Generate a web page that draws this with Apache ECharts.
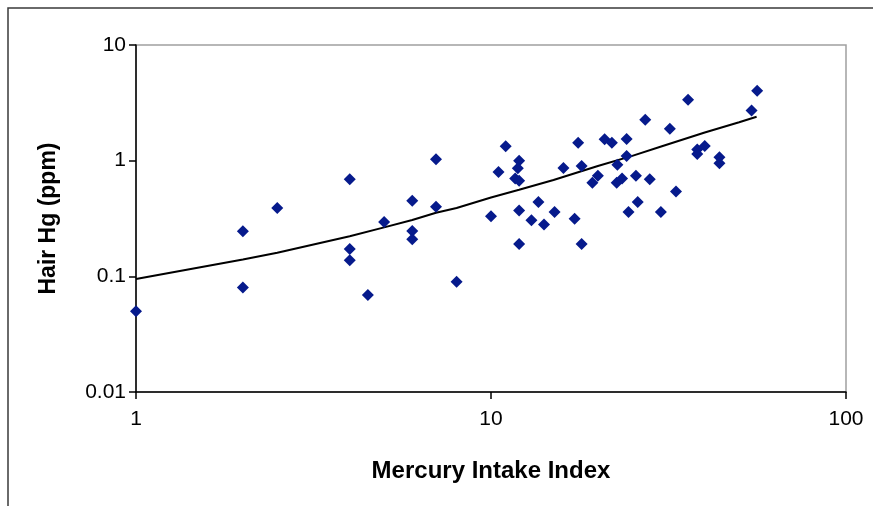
<!DOCTYPE html>
<html>
<head>
<meta charset="utf-8">
<script src="https://cdn.jsdelivr.net/npm/echarts@6/dist/echarts.min.js"></script>
<style>
  html, body { margin: 0; padding: 0; background: #fff; }
  #chart { width: 873px; height: 506px; }
</style>
</head>
<body>
<div id="chart"></div>
<script>
// scatter points: mercury intake index vs hair Hg (ppm)
const intakeIndex = [1, 2, 2, 2.5, 4, 4, 4, 4.5, 5, 6, 6, 6, 7, 7, 8, 10, 10.5, 11, 11.7, 12,
  11.9, 12, 12, 12, 13, 13.6, 14.1, 15.1, 16, 17.2, 17.6, 18, 18, 19.3, 20, 20.9, 21.9, 22.6,
  22.7, 23.4, 24.1, 24.1, 24.4, 25.6, 25.9, 27.2, 28, 30.1, 31.9, 33.2, 35.9, 38.1, 38.1, 40,
  44, 44, 54.2, 56.2];
const hairHg = [0.05, 0.245, 0.08, 0.39, 0.69, 0.172, 0.138, 0.069, 0.295, 0.45, 0.246, 0.209,
  1.03, 0.40, 0.09, 0.33, 0.80, 1.33, 0.70, 1.0, 0.86, 0.67, 0.37, 0.19, 0.305, 0.44, 0.28,
  0.36, 0.865, 0.315, 1.43, 0.90, 0.19, 0.645, 0.74, 1.53, 1.43, 0.645, 0.92, 0.70, 1.54, 1.10,
  0.36, 0.74, 0.44, 2.26, 0.69, 0.36, 1.89, 0.54, 3.37, 1.25, 1.14, 1.34, 1.07, 0.95, 2.72, 4.03];

// trend line
const trendX = [1, 2, 2.5, 4, 5, 6, 7, 8, 10, 12, 15, 20, 25, 30, 40, 50, 56];
const trendY = [0.095, 0.14, 0.16, 0.222, 0.265, 0.307, 0.355, 0.39, 0.48, 0.56, 0.68, 0.9,
  1.1, 1.32, 1.75, 2.15, 2.4];

const font = 'Liberation Sans, Arial, sans-serif';

const chart = echarts.init(document.getElementById('chart'));
chart.setOption({
  animation: false,
  backgroundColor: '#fff',
  grid: {
    left: 136, top: 45, right: 27, bottom: 114,
    show: true, borderColor: '#a0a0a0', borderWidth: 1.5, backgroundColor: '#fff'
  },
  graphic: [{
    type: 'rect',
    shape: { x: 8, y: 8, width: 1000, height: 1000 },
    style: { fill: 'none', stroke: '#3a3a3a', lineWidth: 1.5 },
    silent: true
  }],
  xAxis: {
    type: 'log', logBase: 10, min: 1, max: 100,
    name: 'Mercury Intake Index',
    nameLocation: 'middle', nameGap: 67,
    nameTextStyle: { fontFamily: font, fontSize: 24, fontWeight: 'bold', color: '#000' },
    axisLine: { lineStyle: { color: '#000', width: 1.5 } },
    axisTick: { show: true, length: 7, inside: false, lineStyle: { color: '#000', width: 1.5 } },
    minorTick: { show: false },
    axisLabel: { fontFamily: font, fontSize: 21, color: '#000', margin: 17 },
    splitLine: { show: false }
  },
  yAxis: {
    type: 'log', logBase: 10, min: 0.01, max: 10,
    name: 'Hair Hg (ppm)',
    nameLocation: 'middle', nameGap: 76, nameRotate: 90,
    nameTextStyle: { fontFamily: font, fontSize: 23, fontWeight: 'bold', color: '#000' },
    axisLine: { show: true, lineStyle: { color: '#000', width: 1.5 } },
    axisTick: { show: true, length: 7, inside: false, lineStyle: { color: '#000', width: 1.5 } },
    minorTick: { show: false },
    axisLabel: { fontFamily: font, fontSize: 21, color: '#000', margin: 10,
      formatter: v => String(+v.toPrecision(3)) },
    splitLine: { show: false }
  },
  series: [
    {
      type: 'line',
      data: trendX.map((x, i) => [x, trendY[i]]),
      showSymbol: false,
      lineStyle: { color: '#000', width: 2 },
      z: 3
    },
    {
      type: 'scatter',
      data: intakeIndex.map((x, i) => [x, hairHg[i]]),
      symbol: 'diamond',
      symbolSize: 12,
      itemStyle: { color: '#061a8c', opacity: 1 },
      z: 4
    }
  ]
});
</script>
</body>
</html>
